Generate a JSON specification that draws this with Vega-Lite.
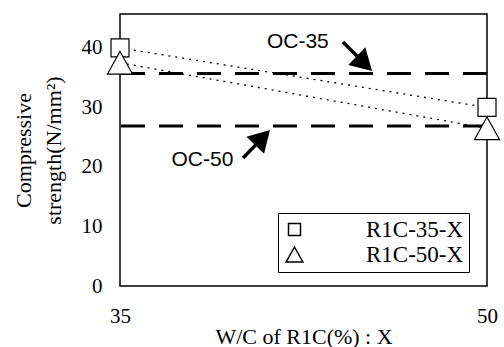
{
  "$schema": "https://vega.github.io/schema/vega-lite/v6.json",
  "width": 367,
  "height": 272,
  "autosize": {"type": "none"},
  "padding": {"left": 120, "top": 14, "right": 17, "bottom": 61},
  "background": "white",
  "config": {
    "view": {"stroke": "black", "strokeWidth": 1.5},
    "axis": {
      "domain": false,
      "grid": false,
      "labelFont": "Liberation Serif",
      "titleFont": "Liberation Serif",
      "labelColor": "black",
      "titleColor": "black",
      "titleFontWeight": "normal",
      "tickColor": "black"
    },
    "axisX": {"titleFontSize": 22, "titlePadding": 0, "labelFontSize": 21, "labelPadding": 19, "ticks": false, "labelFlush": false},
    "axisY": {"titleFontSize": 22, "titleLineHeight": 30, "titlePadding": 16, "labelFontSize": 21, "labelPadding": 18, "ticks": false}
  },
  "datasets": {
    "series": [
      {"series": "R1C-35-X", "wc": 35, "strength": 40},
      {"series": "R1C-35-X", "wc": 50, "strength": 30},
      {"series": "R1C-50-X", "wc": 35, "strength": 37.5},
      {"series": "R1C-50-X", "wc": 50, "strength": 26.5}
    ],
    "oc": [
      {"name": "OC-35", "strength": 35.7},
      {"name": "OC-50", "strength": 26.9}
    ],
    "notes": [
      {"name": "OC-35", "tx": 42.27, "ty": 41.0, "ax": 44.11, "ay": 41.0, "hx": 44.99, "hy": 37.38},
      {"name": "OC-50", "tx": 38.37, "ty": 21.17, "ax": 40.03, "ay": 21.5, "hx": 40.83, "hy": 24.93}
    ]
  },
  "layer": [
    {
      "data": {"name": "oc"},
      "mark": {"type": "rule", "color": "black", "strokeWidth": 3, "strokeDash": [24, 14]},
      "encoding": {
        "y": {"field": "strength", "type": "quantitative", "scale": {"domain": [0, 45.7], "nice": false}, "axis": {"title": ["Compressive", "strength(N/mm²)"], "values": [0, 10, 20, 30, 40]}}
      }
    },
    {
      "data": {"name": "series"},
      "mark": {"type": "line", "color": "black", "strokeWidth": 1.3, "strokeDash": [2, 5]},
      "encoding": {
        "x": {"field": "wc", "type": "quantitative", "scale": {"domain": [35, 50], "nice": false}, "axis": {"title": "W/C of R1C(%)  :  X", "values": [35, 50]}},
        "y": {"field": "strength", "type": "quantitative", "scale": {"domain": [0, 45.7], "nice": false}, "axis": {"title": ["Compressive", "strength(N/mm²)"], "values": [0, 10, 20, 30, 40]}},
        "detail": {"field": "series"}
      }
    },
    {
      "data": {"name": "notes"},
      "mark": {"type": "rule", "color": "black", "strokeWidth": 3.5},
      "encoding": {
        "x": {"field": "ax", "type": "quantitative", "scale": {"domain": [35, 50], "nice": false}, "axis": {"title": "W/C of R1C(%)  :  X", "values": [35, 50]}},
        "y": {"field": "ay", "type": "quantitative", "scale": {"domain": [0, 45.7], "nice": false}, "axis": {"title": ["Compressive", "strength(N/mm²)"], "values": [0, 10, 20, 30, 40]}},
        "x2": {"field": "hx"},
        "y2": {"field": "hy"}
      }
    },
    {
      "data": {"name": "notes"},
      "transform": [{"filter": "datum.name === 'OC-35'"}],
      "mark": {"type": "point", "shape": "triangle-up", "angle": 134, "size": 600, "filled": true, "color": "black", "opacity": 1},
      "encoding": {
        "x": {"field": "hx", "type": "quantitative", "scale": {"domain": [35, 50], "nice": false}, "axis": {"title": "W/C of R1C(%)  :  X", "values": [35, 50]}},
        "y": {"field": "hy", "type": "quantitative", "scale": {"domain": [0, 45.7], "nice": false}, "axis": {"title": ["Compressive", "strength(N/mm²)"], "values": [0, 10, 20, 30, 40]}}
      }
    },
    {
      "data": {"name": "notes"},
      "transform": [{"filter": "datum.name === 'OC-50'"}],
      "mark": {"type": "point", "shape": "triangle-up", "angle": 44, "size": 600, "filled": true, "color": "black", "opacity": 1},
      "encoding": {
        "x": {"field": "hx", "type": "quantitative", "scale": {"domain": [35, 50], "nice": false}, "axis": {"title": "W/C of R1C(%)  :  X", "values": [35, 50]}},
        "y": {"field": "hy", "type": "quantitative", "scale": {"domain": [0, 45.7], "nice": false}, "axis": {"title": ["Compressive", "strength(N/mm²)"], "values": [0, 10, 20, 30, 40]}}
      }
    },
    {
      "data": {"name": "notes"},
      "mark": {"type": "text", "font": "Liberation Sans", "fontSize": 21, "color": "black", "align": "center", "baseline": "middle"},
      "encoding": {
        "x": {"field": "tx", "type": "quantitative", "scale": {"domain": [35, 50], "nice": false}, "axis": {"title": "W/C of R1C(%)  :  X", "values": [35, 50]}},
        "y": {"field": "ty", "type": "quantitative", "scale": {"domain": [0, 45.7], "nice": false}, "axis": {"title": ["Compressive", "strength(N/mm²)"], "values": [0, 10, 20, 30, 40]}},
        "text": {"field": "name"}
      }
    },
    {
      "data": {"name": "series"},
      "mark": {"type": "point", "filled": true, "fill": "white", "stroke": "black", "strokeWidth": 1.2, "opacity": 1, "size": 324, "clip": false},
      "encoding": {
        "x": {"field": "wc", "type": "quantitative", "scale": {"domain": [35, 50], "nice": false}, "axis": {"title": "W/C of R1C(%)  :  X", "values": [35, 50]}},
        "y": {"field": "strength", "type": "quantitative", "scale": {"domain": [0, 45.7], "nice": false}, "axis": {"title": ["Compressive", "strength(N/mm²)"], "values": [0, 10, 20, 30, 40]}},
        "shape": {
          "field": "series",
          "type": "nominal",
          "scale": {"domain": ["R1C-35-X", "R1C-50-X"], "range": ["square", "M0,-1.25L1.39,1.25L-1.39,1.25Z"]},
          "legend": {
            "title": null,
            "orient": "none",
            "legendX": 158,
            "legendY": 199,
            "strokeColor": "black",
            "fillColor": "white",
            "padding": 5,
            "labelFont": "Liberation Serif",
            "labelFontSize": 23,
            "labelColor": "black",
            "labelOffset": 60,
            "rowPadding": 1,
            "symbolSize": 144
          }
        }
      }
    }
  ]
}
